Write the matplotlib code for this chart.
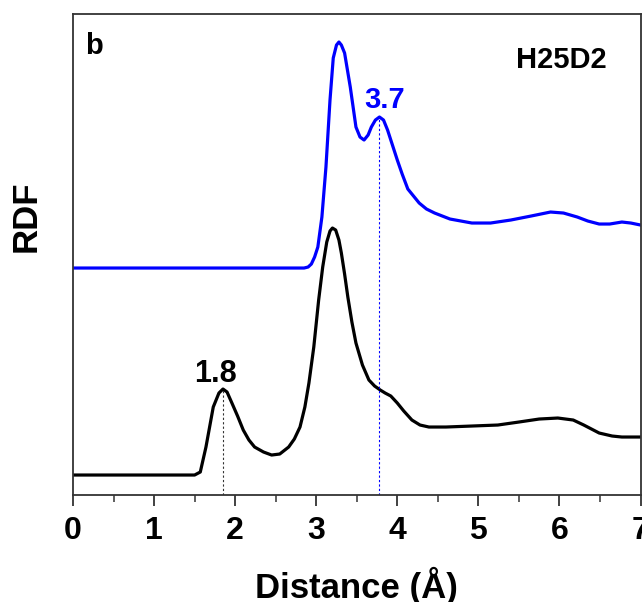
import matplotlib
matplotlib.use('Agg')
import matplotlib.pyplot as plt
from matplotlib.ticker import MultipleLocator

# RDF curves (arbitrary units, already offset)
r_black = [0, 1.50, 1.57, 1.64, 1.73, 1.80, 1.85, 1.90, 1.96, 2.03,
           2.10, 2.17, 2.24, 2.35, 2.45, 2.55, 2.66, 2.73, 2.80, 2.86,
           2.91, 2.97, 3.03, 3.08, 3.13, 3.17, 3.20, 3.24, 3.28, 3.31,
           3.35, 3.39, 3.44, 3.49, 3.57, 3.65, 3.72, 3.79, 3.85, 3.92,
           4.00, 4.08, 4.18, 4.28, 4.39, 4.6, 4.92, 5.24, 5.5, 5.75,
           5.98, 6.17, 6.3, 6.49, 6.65, 6.77, 7.0]
g_black = [0.17, 0.17, 0.20, 0.45, 0.85, 0.99, 1.03, 1.00, 0.89, 0.76,
           0.62, 0.52, 0.45, 0.40, 0.37, 0.38, 0.45, 0.53, 0.65, 0.85,
           1.09, 1.45, 1.92, 2.25, 2.50, 2.61, 2.64, 2.62, 2.52, 2.39,
           2.18, 1.95, 1.70, 1.49, 1.27, 1.12, 1.06, 1.02, 0.99, 0.96,
           0.89, 0.81, 0.72, 0.67, 0.65, 0.65, 0.66, 0.67, 0.70, 0.73,
           0.74, 0.72, 0.67, 0.59, 0.56, 0.55, 0.55]

r_blue = [0, 2.85, 2.90, 2.94, 2.98, 3.02, 3.07, 3.12, 3.17, 3.21,
          3.25, 3.28, 3.31, 3.35, 3.42, 3.49, 3.54, 3.59, 3.64, 3.68,
          3.73, 3.78, 3.83, 3.88, 3.94, 4.00, 4.06, 4.13, 4.20, 4.27,
          4.36, 4.46, 4.65, 4.92, 5.15, 5.4, 5.65, 5.89, 6.05, 6.22,
          6.35, 6.49, 6.62, 6.77, 6.88, 7.0]
g_blue = [2.24, 2.24, 2.25, 2.28, 2.35, 2.45, 2.75, 3.25, 3.92, 4.34,
          4.47, 4.50, 4.47, 4.39, 4.05, 3.65, 3.55, 3.52, 3.57, 3.65,
          3.72, 3.75, 3.72, 3.62, 3.47, 3.32, 3.18, 3.03, 2.96, 2.89,
          2.83, 2.79, 2.73, 2.69, 2.69, 2.72, 2.76, 2.80, 2.79, 2.75,
          2.71, 2.68, 2.68, 2.70, 2.69, 2.67]

# marked peaks: (position, height, label)
peak_black = (1.85, 1.03, '1.8')
peak_blue = (3.78, 3.75, '3.7')

plt.rcParams['font.family'] = ['Liberation Sans', 'DejaVu Sans']
plt.rcParams['font.weight'] = 'bold'
plt.rcParams['axes.labelweight'] = 'bold'

fig = plt.figure(figsize=(6.42, 6.02), dpi=100)
ax = fig.add_axes([0.1137, 0.1777, 0.8840, 0.7990])

ymin, ymax = -0.03, 4.78
ax.plot(r_black, g_black, color='black', lw=2.3, solid_joinstyle='round')
ax.plot(r_blue, g_blue, color='#0000ff', lw=2.3, solid_joinstyle='round')

# dashed guides from the axis up to the marked peaks
ax.plot([peak_black[0]] * 2, [ymin, peak_black[1]], color='#333333',
        lw=0.8, ls=(0, (2, 2)))
ax.plot([peak_blue[0]] * 2, [ymin, peak_blue[1]], color='#0000ff',
        lw=0.8, ls=(0, (2, 2)))

ax.text(peak_black[0] - 0.09, 1.10, peak_black[2], ha='center',
        va='baseline', fontsize=22, color='black')
ax.text(peak_blue[0] + 0.06, 3.84, peak_blue[2], ha='center',
        va='baseline', fontsize=21, color='#0000ff')

ax.text(0.021, 0.963, 'b', transform=ax.transAxes, ha='left', va='top',
        fontsize=21)
ax.text(0.941, 0.904, 'H25D2', transform=ax.transAxes, ha='right',
        va='center', fontsize=21)

ax.set_xlim(0, 7)
ax.set_ylim(ymin, ymax)
ax.xaxis.set_major_locator(MultipleLocator(1))
ax.xaxis.set_minor_locator(MultipleLocator(0.5))
ax.set_yticks([])
ax.tick_params(axis='x', which='major', direction='out', length=8,
               width=1.3, labelsize=23, pad=7, color='#333333')
ax.tick_params(axis='x', which='minor', direction='out', length=5,
               width=1.1, color='#333333')
for s in ax.spines.values():
    s.set_linewidth(1.3)
    s.set_color('#333333')

ax.set_xlabel('Distance (Å)', fontsize=25, labelpad=15)
ax.set_ylabel('RDF', fontsize=25)
ax.yaxis.set_label_coords(-0.053, 0.58)

fig.savefig('out.png', dpi=100)
